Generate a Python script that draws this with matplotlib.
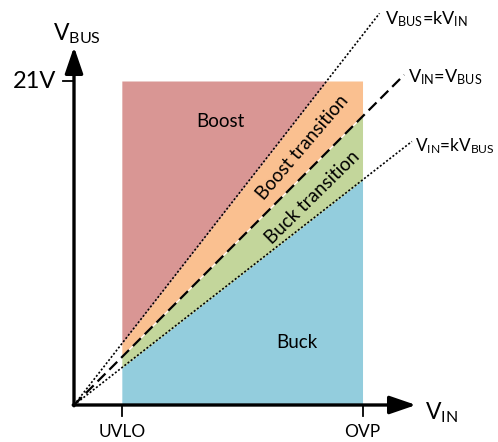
import numpy as np
import matplotlib
matplotlib.use("Agg")
import matplotlib.pyplot as plt

plt.rcParams["font.family"] = ["Lato", "DejaVu Sans"]
plt.rcParams["mathtext.fontset"] = "custom"
plt.rcParams["mathtext.rm"] = "Lato"
plt.rcParams["mathtext.it"] = "Lato"

# operating limits (volts)
uvlo = 3.1
ovp = 18.7
vbus_max = 21.0
k = 0.78

region_names = ["Buck", "Buck transition", "Boost transition", "Boost"]
region_colors = ["#93CDDD", "#C3D69B", "#FAC090", "#D99694"]

# boundary lines: V_BUS = slope * V_IN, drawn out to these V_IN values
line_slopes = [1 / k, 1.0, k]
line_end_vin = [19.8, 21.4, 21.9]
line_labels = ["V$_\\mathrm{BUS}$=kV$_\\mathrm{IN}$",
               "V$_\\mathrm{IN}$=V$_\\mathrm{BUS}$",
               "V$_\\mathrm{IN}$=kV$_\\mathrm{BUS}$"]

# pixel -> volts (equal scale on both axes)
s = vbus_max / 324.0
ox, oy = 74, 405


def px(x, y):
    return (x - ox) * s, (oy - y) * s


fig = plt.figure(figsize=(4.98, 4.42), dpi=100)
ax = fig.add_axes([0, 0, 1, 1])
ax.set_xlim(-ox * s, (498 - ox) * s)
ax.set_ylim(-(442 - oy) * s, oy * s)
ax.axis("off")

# shaded regions
vin = np.linspace(uvlo, ovp, 200)
b_low = np.minimum(k * vin, vbus_max)
b_mid = np.minimum(vin, vbus_max)
b_high = np.minimum(vin / k, vbus_max)
bounds = [np.zeros_like(vin), b_low, b_mid, b_high, np.full_like(vin, vbus_max)]
for i, c in enumerate(region_colors):
    ax.fill_between(vin, bounds[i], bounds[i + 1], color=c, lw=0, zorder=1)

# boundary lines
styles = [dict(ls=(0, (1.2, 1.2)), lw=1.2),
          dict(ls=(0, (5, 2.5)), lw=1.6),
          dict(ls=(0, (1.2, 1.2)), lw=1.2)]
for sl, xe, st in zip(line_slopes, line_end_vin, styles):
    ax.plot([0, xe], [0, sl * xe], color="black", zorder=3, **st)
ax.plot([uvlo, ovp], [uvlo, ovp], color="white", lw=0.8, zorder=2)

# axes with arrows
x_tip = px(416, oy)[0]
y_tip = px(ox, 47)[1]
ax.annotate("", xy=(x_tip, 0), xytext=(-0.05, 0),
            arrowprops=dict(arrowstyle="-|>,head_length=1.6,head_width=0.55",
                            lw=2.4, color="black", shrinkA=0, shrinkB=0), zorder=4)
ax.annotate("", xy=(0, y_tip), xytext=(0, -0.05),
            arrowprops=dict(arrowstyle="-|>,head_length=1.6,head_width=0.55",
                            lw=2.4, color="black", shrinkA=0, shrinkB=0), zorder=4)

# ticks
t = 11 * s
ax.plot([-t, 0], [vbus_max, vbus_max], color="black", lw=1.3)
for xv in [uvlo, ovp]:
    ax.plot([xv, xv], [0, -t], color="black", lw=1.3)

# tick labels
ax.text(*px(56, 82), "21V", fontsize=17, ha="right", va="center")
ax.text(uvlo, px(0, 432)[1], "UVLO", fontsize=12.5, ha="center", va="center")
ax.text(ovp, px(0, 432)[1], "OVP", fontsize=12.5, ha="center", va="center")

# axis titles
ax.text(*px(53, 40), "V$_\\mathrm{BUS}$", fontsize=16.5, ha="left", va="baseline")
ax.text(*px(425, 419), "V$_\\mathrm{IN}$", fontsize=16.5, ha="left", va="baseline")

# region labels
ax.text(*px(220, 121), region_names[3], fontsize=13.5, ha="center", va="center")
ax.text(*px(297, 343), region_names[0], fontsize=13.5, ha="center", va="center")
ax.text(*px(303, 147), region_names[2], fontsize=13.5, ha="center", va="center",
        rotation=49.5, rotation_mode="anchor")
ax.text(*px(313, 197), region_names[1], fontsize=13.5, ha="center", va="center",
        rotation=44.5, rotation_mode="anchor")

# line labels
label_pos = [(385, 24), (408, 82), (415, 151)]
label_sizes = [13, 13, 12.3]
for lab, (lx, ly), fs in zip(line_labels, label_pos, label_sizes):
    ax.text(*px(lx, ly), lab, fontsize=fs, ha="left", va="baseline")

fig.savefig("out.png", dpi=100)
